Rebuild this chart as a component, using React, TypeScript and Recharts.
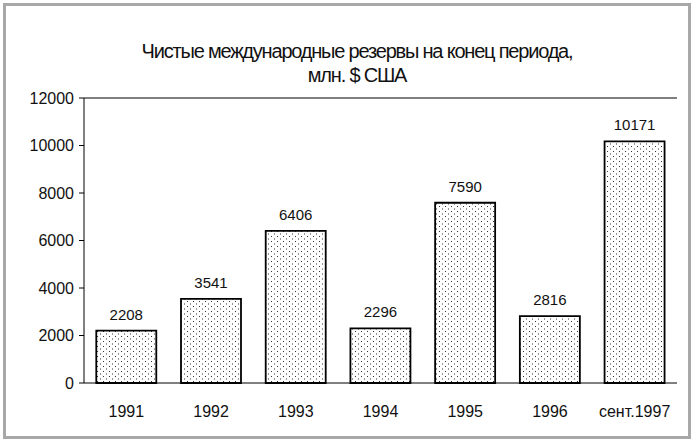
import React from 'react';
import { BarChart, Bar, XAxis, YAxis, LabelList, ReferenceLine } from 'recharts';

const categories = ['1991', '1992', '1993', '1994', '1995', '1996', 'сент.1997'];
const reserves = [2208, 3541, 6406, 2296, 7590, 2816, 10171];
const yTicks = [0, 2000, 4000, 6000, 8000, 10000, 12000];
const boundaryTicks = [0, 1, 2, 3, 4, 5, 6, 7];

const data = categories.map((c, i) => ({ name: c, value: reserves[i] }));

const font = '"Liberation Sans", Arial, sans-serif';

export default function App() {
  return (
    <div style={{ position: 'absolute', left: 0, top: 0, width: 694, height: 441, background: '#fff', fontFamily: font }}>
      <div style={{ position: 'absolute', left: 3, top: 3, width: 682, height: 430, border: '3px solid #a8a8a8' }} />
      <div style={{ position: 'absolute', left: 0, top: 39, width: 714, textAlign: 'center', fontSize: 20, letterSpacing: -1.2, lineHeight: '24px', color: '#111' }}>
        Чистые международные резервы на конец периода,
        <br />
        млн. $ США
      </div>
      <BarChart
        width={694}
        height={441}
        data={data}
        margin={{ top: 98, right: 17, bottom: 28, left: 0 }}
        barCategoryGap="14.5%"
        style={{ position: 'absolute', left: 0, top: 0 }}
      >
        <defs>
          <pattern id="dots" width="6" height="5" patternUnits="userSpaceOnUse">
            <rect x="1" y="1" width="1" height="1" fill="#333" />
            <rect x="4" y="3.5" width="1" height="1" fill="#333" />
          </pattern>
        </defs>
        <XAxis
          xAxisId="cat"
          dataKey="name"
          height={30}
          tickLine={false}
          axisLine={{ stroke: '#000' }}
          tick={{ fill: '#111', fontSize: 16, fontFamily: font }}
          tickMargin={17}
          interval={0}
        />
        <XAxis
          xAxisId="num"
          type="number"
          domain={[0, 7]}
          ticks={boundaryTicks}
          height={0}
          axisLine={false}
          tickLine={{ stroke: '#000' }}
          tickSize={6}
          tickFormatter={() => ''}
        />
        <YAxis
          yAxisId="left"
          domain={[0, 12000]}
          ticks={yTicks}
          width={84}
          axisLine={{ stroke: '#000' }}
          tickLine={{ stroke: '#000' }}
          tickSize={5}
          tickMargin={5}
          tick={{ fill: '#111', fontSize: 16, fontFamily: font }}
          interval={0}
        />
        <YAxis
          yAxisId="right"
          orientation="right"
          domain={[0, 12000]}
          width={0}
          tick={false}
          tickLine={false}
          axisLine={{ stroke: '#000' }}
        />
        <ReferenceLine xAxisId="cat" yAxisId="left" y={12000} stroke="#000" />
        <Bar
          xAxisId="cat"
          yAxisId="left"
          dataKey="value"
          fill="url(#dots)"
          stroke="#000"
          strokeWidth={1.8}
          isAnimationActive={false}
        >
          <LabelList dataKey="value" position="top" offset={11} fill="#111" fontSize={15} fontFamily={font} />
        </Bar>
      </BarChart>
    </div>
  );
}
